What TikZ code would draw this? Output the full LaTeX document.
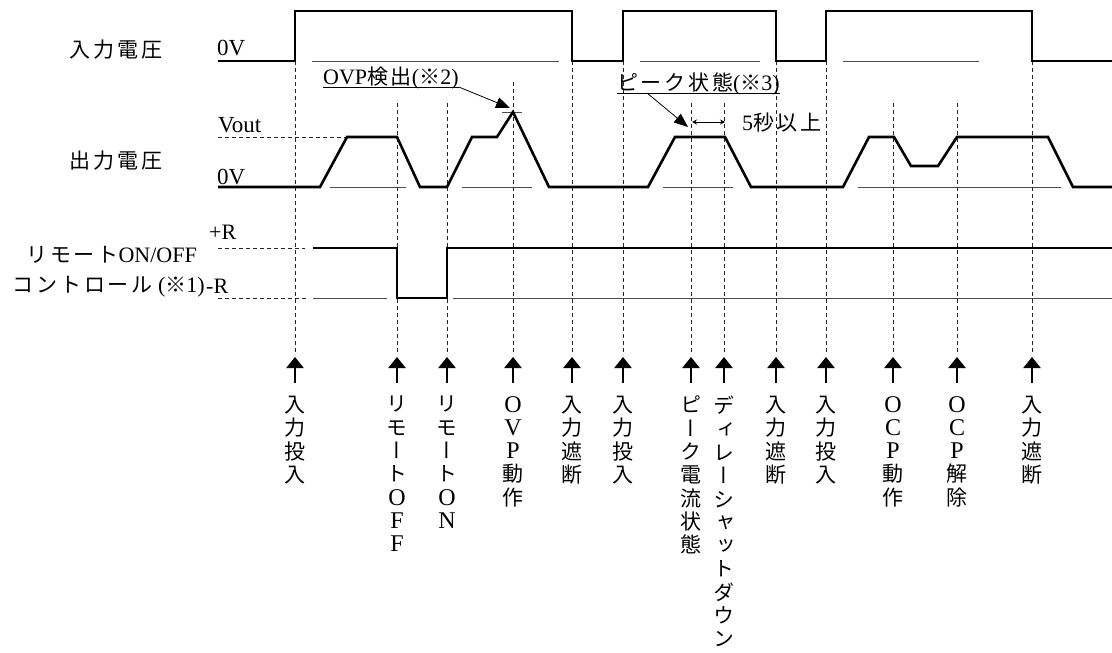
\documentclass[tikz,border=0pt]{standalone}
\usepackage{fontspec}
\setmainfont{Liberation Serif}
\newfontfamily\cjk[LetterSpace=13]{Noto Sans CJK JP}
\newfontfamily\cjkv[RawFeature=+vert]{Noto Sans CJK JP}
\usetikzlibrary{arrows.meta,calc}
\newcommand\latn[1]{{\rmfamily\fontsize{24}{24}\selectfont #1}}
\newcommand\jp[1]{{\cjk\fontsize{21}{24}\selectfont #1}}
\begin{document}
\begin{tikzpicture}[x=1pt,y=-1pt,
  wave/.style={line width=2.6pt, line join=miter},
  thinl/.style={line width=1pt, black!70},
  dsh/.style={line width=0.8pt, dash pattern=on 4pt off 3pt, black!85},
  lab/.style={font=\fontsize{22}{24}\selectfont, inner sep=0},
  lvl/.style={font=\fontsize{23}{24}\selectfont, inner sep=0, anchor=base west},
  jlab/.style={font=\cjk\fontsize{21}{24}\selectfont, inner sep=0},
  vlab/.style={font=\cjkv\fontsize{21}{23.3}\selectfont, align=center, anchor=north, inner sep=0},
  uparr/.style={line width=2.6pt, -{Triangle[length=11pt,width=17pt]}},
  ptr/.style={line width=0.8pt, -{Triangle[length=14pt,width=11pt]}},
]
\useasboundingbox[fill=white] (0,0) rectangle (1112,653);
\coordinate (bot) at (0,355);

% thin reference lines
\draw[thinl] (312,61) -- (559,61);
\draw[thinl] (640,61) -- (760,61);
\draw[thinl] (843,61) -- (979,61);
\draw[thinl] (330,187) -- (406,187);
\draw[thinl] (462,187) -- (532,187);
\draw[thinl] (663,187) -- (733,187);
\draw[thinl] (858,187) -- (1061,187);
\draw[thinl] (313,298) -- (387,298);
\draw[thinl] (453,298) -- (1112,298);
\draw[thinl] (502,112) -- (522,112);

% horizontal dashed
\draw[dsh] (218,137) -- (347,137);
\draw[dsh] (218,248) -- (305,248);
\draw[dsh] (218,298) -- (307,298);

% event columns
\foreach \n/\x/\yt/\txt in {
 a/295/61/{入\\力\\投\\入},
 b/397/103/{リ\\モ\\ー\\ト\\\latn{O}\\\latn{F}\\\latn{F}},
 c/447/103/{リ\\モ\\ー\\ト\\\latn{O}\\\latn{N}},
 d/513/82/{\latn{O}\\\latn{V}\\\latn{P}\\動\\作},
 e/572/61/{入\\力\\遮\\断},
 f/623/61/{入\\力\\投\\入},
 g/691/103/{ピ\\ー\\ク\\電\\流\\状\\態},
 h/724/103/{デ\\ィ\\レ\\ー\\シ\\ャ\\ッ\\ト\\ダ\\ウ\\ン},
 i/776/61/{入\\力\\遮\\断},
 j/826/61/{入\\力\\投\\入},
 k/893/103/{\latn{O}\\\latn{C}\\\latn{P}\\動\\作},
 l/957/103/{\latn{O}\\\latn{C}\\\latn{P}\\解\\除},
 m/1032/61/{入\\力\\遮\\断}}
{
 \node[vlab] (t\n) at (\x,396) {\txt};
 \coordinate (top\n) at (\x,\yt);
 \draw[dsh] (top\n) -- (top\n |- bot);
 \draw[uparr] ([yshift=13pt]t\n.north) -- ([yshift=39pt]t\n.north);
}

% waveforms
\draw[wave] (218,61) -- (295,61) -- (295,11) -- (572,11) -- (572,61) -- (623,61) -- (623,11) -- (776,11) -- (776,61) -- (826,61) -- (826,11) -- (1032,11) -- (1032,61) -- (1112,61);
\draw[wave] (218,187) -- (320,187) -- (347,137) -- (397,137) -- (420,187) -- (447,187) -- (472,137) -- (497,137) -- (513,112) -- (549,187) -- (648,187) -- (675,137) -- (725,137) -- (751,187) -- (843,187) -- (869,137) -- (894,137) -- (911,166) -- (938,166) -- (957,137) -- (1048,137) -- (1073,187) -- (1112,187);
\draw[wave] (313,248) -- (397,248) -- (397,298) -- (447,298) -- (447,248) -- (1112,248);

% left labels
\node[jlab] (inv) at (116,50) {入力電圧};
\node[lvl] (z1) at (217,56) {0V};
\node[lvl] (vo) at (218,132) {Vout};
\node[jlab] (outv) at (116,161) {出力電圧};
\node[lvl] (z2) at (217,184) {0V};
\node[lab, anchor=base east] (rm1) at (197,262) {\jp{リモート}ON/OFF};
\node[lab, anchor=base east] (rm2) at (205,292) {\jp{コントロール} (\jp{※}1)};
\node[lab, anchor=base west] (pr) at (209,239) {+R};
\node[lab, anchor=base west] (mr) at (206,293) {-R};

% annotations
\node[lab, anchor=base west] (ovp) at (323,84) {OVP\jp{検出}(\jp{※}2)};
\draw[line width=0.8pt] ([yshift=-3pt]ovp.base west) -- ([yshift=-3pt]ovp.base east);
\coordinate (peak) at (510,108);
\draw[ptr] ([yshift=-3pt]ovp.base east) -- (peak);

\node[lab, anchor=base west] (pk) at (617,90) {\jp{ピーク状態}(\jp{※}3)};
\draw[line width=0.8pt] ([yshift=-3pt]pk.base west) -- ([yshift=-3pt]pk.base east);
\coordinate (pkt) at (688,127);
\draw[ptr] ([xshift=30pt,yshift=-3pt]pk.base west) -- (pkt);

\node[lab, anchor=base west] (five) at (742,130) {5\jp{秒以上}};
\coordinate (d1) at (692,122);
\coordinate (d2) at (725,122);
\draw[line width=0.8pt, {Stealth[length=5pt,width=5pt]}-{Stealth[length=5pt,width=5pt]}] (d1) -- (d2);
\end{tikzpicture}
\end{document}
